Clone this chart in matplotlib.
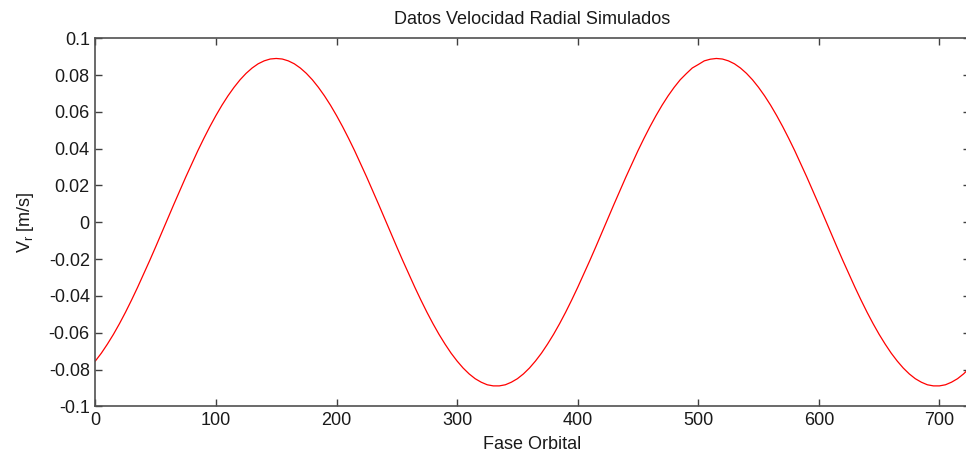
import matplotlib.pyplot as plt

plt.rcParams['font.family'] = ['Liberation Sans', 'DejaVu Sans']

# orbital phase (every 5 units) and simulated radial velocity [m/s]
fase = list(range(0, 730, 5))
vr = [-0.0754, -0.0711, -0.0662, -0.0609, -0.0551, -0.0489, -0.0423, -0.0354, -0.0282, -0.0209,
      -0.0134, -0.0057, 0.0019, 0.0096, 0.0171, 0.0246, 0.0318, 0.0389, 0.0456, 0.0520,
      0.0580, 0.0636, 0.0687, 0.0733, 0.0774, 0.0809, 0.0838, 0.0861, 0.0877, 0.0887,
      0.0890, 0.0887, 0.0877, 0.0861, 0.0838, 0.0809, 0.0774, 0.0733, 0.0687, 0.0636,
      0.0580, 0.0520, 0.0456, 0.0389, 0.0318, 0.0246, 0.0171, 0.0096, 0.0019, -0.0057,
      -0.0134, -0.0209, -0.0282, -0.0354, -0.0423, -0.0489, -0.0551, -0.0609, -0.0662, -0.0711,
      -0.0754, -0.0792, -0.0824, -0.0850, -0.0869, -0.0883, -0.0889, -0.0889, -0.0883, -0.0869,
      -0.0850, -0.0824, -0.0792, -0.0754, -0.0711, -0.0662, -0.0609, -0.0551, -0.0489, -0.0423,
      -0.0354, -0.0282, -0.0209, -0.0134, -0.0057, 0.0019, 0.0096, 0.0171, 0.0246, 0.0318,
      0.0389, 0.0456, 0.0520, 0.0580, 0.0636, 0.0687, 0.0733, 0.0774, 0.0807, 0.0838,
      0.0857, 0.0877, 0.0886, 0.0890, 0.0887, 0.0877, 0.0861, 0.0838, 0.0809, 0.0774,
      0.0733, 0.0687, 0.0636, 0.0580, 0.0520, 0.0456, 0.0389, 0.0318, 0.0246, 0.0171,
      0.0096, 0.0019, -0.0057, -0.0134, -0.0209, -0.0282, -0.0354, -0.0423, -0.0489, -0.0551,
      -0.0609, -0.0662, -0.0711, -0.0754, -0.0792, -0.0824, -0.0850, -0.0869, -0.0883, -0.0889,
      -0.0889, -0.0883, -0.0869, -0.0850, -0.0824, -0.0792]

xticks = [0, 100, 200, 300, 400, 500, 600, 700]
yticks = [-0.1, -0.08, -0.06, -0.04, -0.02, 0, 0.02, 0.04, 0.06, 0.08, 0.1]
ylabels = ['-0.1', '-0.08', '-0.06', '-0.04', '-0.02', '0', '0.02', '0.04', '0.06', '0.08', '0.1']

fig = plt.figure(figsize=(9.66, 4.55), dpi=100)
# the right edge of the box runs just past the figure border
ax = fig.add_axes([0.0987, 0.107, 0.905, 0.809])

ax.plot(fase, vr, color='red', linewidth=0.9)

ax.set_xlim(0, 725)
ax.set_ylim(-0.1, 0.1)
ax.set_xticks(xticks)
ax.set_xticklabels([str(t) for t in xticks])
ax.set_yticks(yticks)
ax.set_yticklabels(ylabels)

ax.tick_params(direction='in', length=5, width=1, colors='#404040',
               labelcolor='#1a1a1a', labelsize=13, top=True, right=True, pad=4)
for s in ax.spines.values():
    s.set_color('#505050')
    s.set_linewidth(1.2)

ax.set_title('Datos Velocidad Radial Simulados', fontsize=13, color='#1a1a1a', pad=10)
ax.set_xlabel('Fase Orbital', fontsize=13, color='#1a1a1a', labelpad=5)
ax.set_ylabel('V$_\\mathregular{r}$ [m/s]', fontsize=13, color='#1a1a1a', labelpad=9)

fig.savefig('out.png', dpi=100)
